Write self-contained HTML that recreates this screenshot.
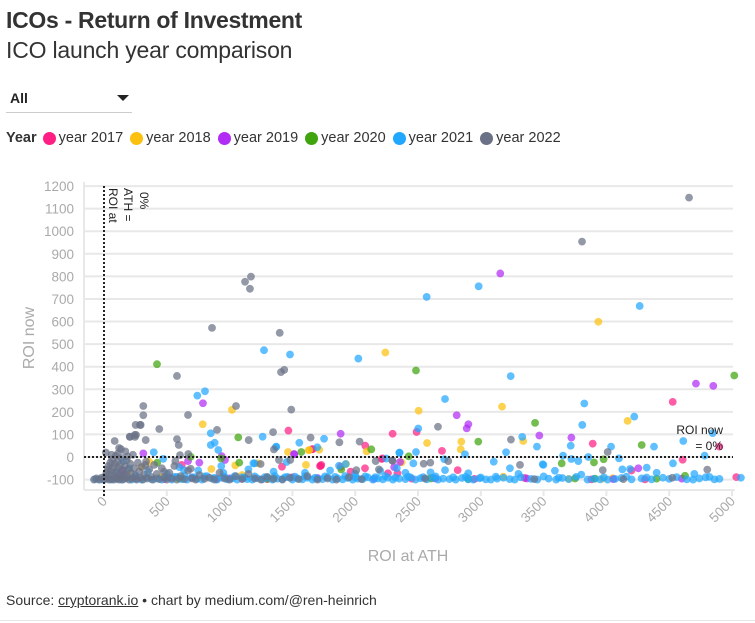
<!DOCTYPE html>
<html><head><meta charset="utf-8">
<style>
html,body{margin:0;padding:0;background:#fff;width:755px;height:623px;overflow:hidden;font-family:"Liberation Sans",sans-serif;}
.t{position:absolute;white-space:nowrap;color:#333;}
</style></head>
<body>
<div class="t" style="left:6px;top:7px;font-size:23px;font-weight:bold;letter-spacing:-0.3px;">ICOs - Return of Investment</div>
<div class="t" style="left:6px;top:37px;font-size:23px;letter-spacing:-0.2px;">ICO launch year comparison</div>
<div style="position:absolute;left:6px;top:86px;width:126px;height:26px;border-bottom:1px solid #ccc;">
  <span class="t" style="left:4px;top:4px;font-size:14px;font-weight:bold;color:#222;">All</span>
  <span style="position:absolute;left:111px;top:9px;width:0;height:0;border-left:6px solid transparent;border-right:6px solid transparent;border-top:6px solid #222;"></span>
</div>
<div style="position:absolute;left:6px;top:129px;height:18px;font-size:14.5px;color:#333;display:flex;align-items:center;white-space:nowrap;">
  <b style="margin-right:6px">Year</b>
  <span style="display:flex;align-items:center;margin-right:7px"><i style="display:inline-block;width:13px;height:13px;border-radius:50%;background:#ff1f84;margin-right:3px"></i>year 2017</span>
  <span style="display:flex;align-items:center;margin-right:7px"><i style="display:inline-block;width:13px;height:13px;border-radius:50%;background:#fcc10e;margin-right:3px"></i>year 2018</span>
  <span style="display:flex;align-items:center;margin-right:7px"><i style="display:inline-block;width:13px;height:13px;border-radius:50%;background:#b12cf5;margin-right:3px"></i>year 2019</span>
  <span style="display:flex;align-items:center;margin-right:7px"><i style="display:inline-block;width:13px;height:13px;border-radius:50%;background:#3fa40e;margin-right:3px"></i>year 2020</span>
  <span style="display:flex;align-items:center;margin-right:7px"><i style="display:inline-block;width:13px;height:13px;border-radius:50%;background:#22a7ff;margin-right:3px"></i>year 2021</span>
  <span style="display:flex;align-items:center;"><i style="display:inline-block;width:13px;height:13px;border-radius:50%;background:#6b7287;margin-right:3px"></i>year 2022</span>
</div>
<svg id="chart" width="755" height="623" style="position:absolute;left:0;top:0" xmlns="http://www.w3.org/2000/svg" font-family="Liberation Sans, sans-serif"></svg>
<div class="t" style="left:6px;top:592px;font-size:14px;color:#333;">Source: <span style="text-decoration:underline">cryptorank.io</span> • chart by medium.com/@ren-heinrich</div>
<div style="position:absolute;left:0;top:620px;width:755px;height:1px;background:#e5e5e5"></div>
<script>
const yTicks=[-100,0,100,200,300,400,500,600,700,800,900,1000,1100,1200];
const xTicks=[0,500,1000,1500,2000,2500,3000,3500,4000,4500,5000];
const seriesNames=["2017","2018","2019","2020","2021","2022"];
const x2017=[1468,2298,2489,3891,4528,4899,2080,2691,1662,1725,2219,4607,2816,2336,4307,3880,619,1417,1884,1964,1730,2078,2211,2261,5034,1720,1656,150,250,480,700,900,1100,1300,1500,2450,2950,3350,4200];
const y2017=[117,103,111,59,244,46,50,27,35,-40,-6,-12,-58,-72,-99,-99,-35,-43,-43,-65,-35,-50,-9,-72,-89,-40,34,-80,-95,-98,-92,-97,-95,-98,-90,-96,-97,-93,-60];
const x2018=[2240,3936,3169,2505,4169,1019,786,2572,2845,2840,3338,1714,1630,1465,2091,1226,1927,3179,3971,855,1045,361,1608,2370,1635,200,450,600,1100,1350,2600,3700,4050,300];
const y2018=[463,599,223,205,160,209,145,62,68,34,71,32,30,22,25,-28,-31,-87,-96,-53,-37,-21,-35,-24,31,-60,-90,-95,-80,-92,-92,-97,-94,-45];
const x2019=[3155,4713,4851,788,2808,2901,2888,3466,3721,1884,1515,2357,4254,3365,4055,2637,313,937,963,669,759,1513,2310,150,520,1000,1700,2150,4600];
const y2019=[813,325,315,238,185,145,127,95,86,103,12,-22,-50,-95,-98,-95,16,4,-13,-18,-25,13,-45,-60,-90,-95,-93,-97,-96];
const x2020=[2484,5018,3432,4281,2980,2128,1571,2426,3901,3978,3644,2604,4626,3909,1069,690,424,1077,1889,422,932,600,1300,2900,4400,3750];
const y2020=[383,361,151,53,68,34,22,3,-24,-10,-28,-95,-83,-96,87,1,-25,-25,-55,411,-6,-95,-96,-97,-96,-95];
const x2021=[2569,2983,4265,1274,1481,2025,3238,3824,2715,4222,3808,2502,1263,1752,1555,1698,1369,2354,2484,2874,3330,3447,3716,4037,4379,4612,4846,3201,3655,4100,3856,4530,4782,3103,3493,3776,3721,2709,2463,1871,1454,1189,3498,3590,3232,4321,4127,4188,2715,2331,850,850,881,910,396,1372,934,637,1200,154,2248,2351,1924,5071,804,743,472,
-70,-30,20,60,100,140,180,220,260,300,340,380,420,460,500,540,580,620,660,700,740,780,820,860,900,940,980,1020,1060,1100,1140,1180,1220,1260,1300,1340,1380,1420,1460,1500,1540,1580,1620,1660,1700,1740,1780,1820,1860,1900,1940,1980,2020,2060,2100,2140,2180,2220,2260,2300,2350,2400,2440,2480,2520,2570,2620,2660,2700,2750,2800,2850,2900,2940,2990,3040,3080,3130,3180,3230,3270,3400,3450,3540,3600,3650,3700,3850,3900,3950,4010,4070,4120,4200,4280,4360,4450,4500,4640,4690,4740,4790,4860,4900,
100,200,250,350,500,600,750,950,1150,1350,1600,1800,2000,2200,2400,2600,2900,3300,3800,4400,4700,
560,640,720,800,880,960,1040,1120,1200,1280,1360,1440,1520,1600,1680,1760,1840,1920,2000,2080,2160,2240,2320,2420,2540,2640,2780,2880,3000,3120,3320,3500,3620,3760,3980,4160,4320,4560,4820];
const y2021=[709,756,669,473,454,436,358,237,257,179,142,126,90,81,63,43,44,19,22,12,89,46,50,46,46,71,106,21,6,-6,0,-28,6,-21,-32,-18,-9,-10,-28,-39,-22,-28,-35,-61,-50,-47,-55,-53,-58,-50,105,53,63,31,21,46,-40,-58,-28,-18,-7,19,-31,-92,291,272,-8,
-98,-100,-95,-100,-97,-100,-92,-100,-96,-100,-90,-99,-95,-100,-93,-100,-88,-98,-100,-90,-97,-100,-85,-96,-100,-92,-99,-95,-100,-90,-98,-100,-94,-99,-91,-100,-96,-98,-88,-100,-95,-99,-92,-100,-96,-98,-90,-100,-95,-99,-93,-100,-96,-98,-90,-100,-95,-99,-92,-100,-96,-98,-90,-100,-94,-99,-92,-100,-96,-98,-100,-93,-99,-100,-94,-99,-100,-96,-92,-98,-100,-97,-100,-96,-100,-93,-98,-100,-97,-99,-100,-97,-93,-99,-95,-99,-92,-97,-99,-100,-95,-90,-99,-97,
-70,-50,-80,-65,-75,-45,-60,-70,-55,-65,-70,-60,-75,-62,-70,-68,-72,-75,-78,-70,-75,
-88,-84,-90,-86,-92,-87,-85,-91,-86,-89,-84,-90,-87,-85,-92,-86,-88,-84,-90,-86,-89,-85,-91,-87,-89,-86,-90,-88,-91,-87,-90,-86,-92,-88,-90,-87,-91,-89,-88];
const x2022=[4658,3806,1123,1170,1162,860,1399,581,1409,1435,1491,313,313,669,1051,900,440,252,292,205,245,85,332,1152,1346,1645,581,595,2035,1874,2659,3240,2298,2163,2598,2545,2741,3312,3971,4803,4010,1393,1483,1353,605,671,568,690,478,329,1247,2009,2189,2295,3426,2556,4135,4525,135,207,247,255,287,
-80,-60,-40,-20,0,10,20,25,30,35,40,45,50,55,60,65,70,75,80,85,90,95,100,105,110,115,120,125,130,135,140,145,150,160,165,170,180,185,190,200,210,215,225,230,240,250,260,270,280,290,300,310,320,335,345,360,375,390,400,420,440,460,480,500,520,540,560,580,610,640,670,700,730,760,800,840,880,920,960,1000,1050,1100,1150,1200,1250,1300,1350,1420,1480,1550,1620,1700,1780,1850,1950,2050,15,60,110,170,190,120];
const y2022=[1149,954,776,799,745,572,550,359,376,386,210,226,185,186,226,120,124,142,142,90,98,71,75,75,110,86,79,53,68,65,134,77,-16,-18,-25,-30,-18,-35,-58,-56,22,-13,-13,34,8,13,-18,-52,-65,-35,-31,-58,-55,-16,-98,-95,-98,-92,35,89,89,98,142,
-100,-95,-100,-92,-100,-85,-70,-95,-55,-40,-100,-80,-25,-60,-98,-10,-75,-45,-100,-30,-88,5,-65,-95,-20,-50,-100,-80,-35,-90,-5,-60,-100,-75,-40,-95,-15,-85,-55,-100,-30,-70,-95,10,-50,-85,-100,-25,-65,-92,-45,-100,-78,-20,-95,-55,-88,-100,-35,-75,-98,-50,-90,-100,-70,-95,-40,-100,-85,-98,-60,-95,-100,-80,-97,-92,-100,-70,-95,-100,-85,-98,-75,-95,-100,-88,-97,-100,-92,-98,-85,-100,-95,-100,-90,-98,20,10,15,25,2,40];
const colors={"2017":"#ff1f84","2018":"#fcc10e","2019":"#b12cf5","2020":"#3fa40e","2021":"#22a7ff","2022":"#6b7287"};
const seriesX={"2017":x2017,"2018":x2018,"2019":x2019,"2020":x2020,"2021":x2021,"2022":x2022};
const seriesY={"2017":y2017,"2018":y2018,"2019":y2019,"2020":y2020,"2021":y2021,"2022":y2022};

const NS="http://www.w3.org/2000/svg";
const svg=document.getElementById("chart");
const L=84,R=733,T=186,B=490;
function sx(v){return 104+v*(628/5000);}
function sy(v){return 457-v*(293.5/1300);}
function mk(tag,attrs,parent){const e=document.createElementNS(NS,tag);for(const k in attrs)e.setAttribute(k,attrs[k]);(parent||svg).appendChild(e);return e;}

yTicks.forEach(t=>{
  const g=mk("line",{x1:L,x2:R,y1:sy(t),y2:sy(t),stroke:"#e8e8e8","stroke-width":2});
  
  
  const lb=mk("text",{x:74,y:sy(t)+5,"text-anchor":"end","font-size":13.5,fill:"#aaa"});
  lb.textContent=t;
  
  
});
const yax=mk("line",{x1:L,x2:L,y1:T-4,y2:B,stroke:"#e8e8e8","stroke-width":2});


const xax=mk("line",{x1:L,x2:R+2,y1:B,y2:B,stroke:"#e8e8e8","stroke-width":2});


xTicks.forEach(t=>{
  const tk=mk("line",{x1:sx(t),x2:sx(t),y1:B,y2:B+6,stroke:"#e8e8e8","stroke-width":2});
  
  
  const lb=mk("text",{x:sx(t)+4,y:B+12,"text-anchor":"end","font-size":13.5,fill:"#aaa",transform:`rotate(-45 ${sx(t)+4} ${B+12})`});
  lb.textContent=t;
  
  
});
const xt=mk("text",{x:408,y:561,"text-anchor":"middle","font-size":16,fill:"#aaa"});
xt.textContent="ROI at ATH";


const yt=mk("text",{x:34,y:338,"text-anchor":"middle","font-size":16,fill:"#aaa",transform:"rotate(-90 34 338)"});
yt.textContent="ROI now";



seriesNames.forEach(s=>{
  const xs=seriesX[s],ys=seriesY[s];
  for(let i=0;i<xs.length;i++){
    const c=mk("circle",{cx:sx(xs[i]),cy:sy(ys[i]),r:3.9,fill:colors[s],"fill-opacity":0.72});
    
    
  }
});

const hz=mk("line",{x1:L,x2:R,y1:sy(0),y2:sy(0),stroke:"#222","stroke-width":2,"stroke-dasharray":"2,2"});


const vz=mk("line",{x1:sx(0),x2:sx(0),y1:T,y2:B+8,stroke:"#222","stroke-width":2,"stroke-dasharray":"2,2"});


[["ROI at",109,188],["ATH =",124,188],["0%",140,192]].forEach(a=>{
  const t=mk("text",{x:a[1],y:a[2],"font-size":12,fill:"#222",transform:`rotate(90 ${a[1]} ${a[2]})`});
  t.textContent=a[0];
  
  
});
[["ROI now",723,434],["= 0%",723,450]].forEach(a=>{
  const t=mk("text",{x:a[1],y:a[2],"font-size":12,fill:"#222","text-anchor":"end"});
  t.textContent=a[0];
  
  
});
</script>
</body></html>
